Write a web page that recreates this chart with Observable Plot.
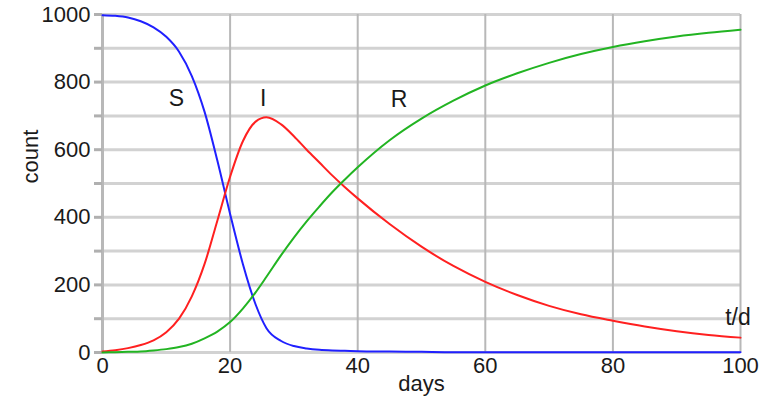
<!DOCTYPE html>
<html>
<head>
<meta charset="utf-8">
<script src="https://cdn.jsdelivr.net/npm/d3@7"></script>
<script src="https://cdn.jsdelivr.net/npm/@observablehq/plot@0.6"></script>
<style>
  html, body { margin: 0; padding: 0; background: #fff; }
  #chart { width: 760px; height: 402px; }
  svg { overflow: visible; }
</style>
</head>
<body>
<div id="chart"></div>
<script>
const days        = [0, 2, 4, 6, 8, 10, 12, 14, 16, 18, 20, 22, 24, 25.7, 28, 30, 32, 34, 36, 38, 40, 45, 50, 55, 60, 65, 70, 75, 80, 85, 90, 95, 100];
const susceptible = [998, 996, 991, 980, 962, 934, 890, 818, 712, 568, 410, 262, 142, 72, 34, 19, 12, 8, 6, 5, 4, 3, 2, 1, 1, 1, 1, 1, 1, 1, 1, 1, 1];
const infected    = [3, 7, 13, 22, 36, 60, 100, 166, 262, 390, 520, 625, 683, 696, 675, 640, 600, 562, 524, 489, 456, 380, 313, 256, 209, 170, 138, 113, 94, 77, 63, 52, 44];
const recovered   = [0, 1, 2, 3, 6, 10, 16, 26, 42, 62, 90, 130, 178, 224, 288, 340, 388, 432, 474, 512, 548, 628, 692, 745, 790, 826, 857, 883, 904, 921, 935, 946, 955];

const seriesNames  = ["S", "I", "R"];
const seriesColors = ["#2020ff", "#ff2020", "#22b422"];

const xTicks = [0, 20, 40, 60, 80, 100];
const yGrid  = [0, 100, 200, 300, 400, 500, 600, 700, 800, 900, 1000];

// curve labels
const labelText = ["S", "I", "R", "t/d"];
const labelDay  = [11.6, 25.2, 46.5, 99.6];
const labelVal  = [752, 752, 748, 102];

const rows = [];
days.forEach((d, i) => {
  rows.push({day: d, value: susceptible[i], series: "S"});
  rows.push({day: d, value: infected[i], series: "I"});
  rows.push({day: d, value: recovered[i], series: "R"});
});
const labels = labelText.map((t, i) => ({t, day: labelDay[i], value: labelVal[i]}));

const font = "'Liberation Sans', Arial, sans-serif";

const chart = Plot.plot({
  width: 760,
  height: 402,
  marginLeft: 102,
  marginRight: 20,
  marginTop: 14,
  marginBottom: 50,
  style: {fontFamily: font, fontSize: "22px", color: "#1a1a1a", background: "#fff"},
  x: {domain: [0, 100]},
  y: {domain: [0, 1000]},
  color: {domain: seriesNames, range: seriesColors},
  marks: [
    Plot.ruleY(yGrid, {stroke: "#d2d2d2", strokeWidth: 3}),
    Plot.ruleX(xTicks, {stroke: "#b8b8b8", strokeWidth: 2}),
    Plot.ruleX([0], {stroke: "#b8b8b8", strokeWidth: 3}),
    Plot.axisY({ticks: yGrid, tickSize: 8, tickPadding: 4, stroke: "#b0b0b0", strokeWidth: 3, strokeOpacity: 1,
                fill: "#1a1a1a", fontSize: 22,
                tickFormat: d => (d % 200 === 0 ? String(d) : ""), label: null}),
    Plot.axisX({ticks: xTicks, tickSize: 0, tickPadding: 5, fill: "#1a1a1a", fontSize: 22,
                tickFormat: d => String(d), label: null}),
    Plot.line(rows, {x: "day", y: "value", z: "series", stroke: "series", strokeWidth: 2, curve: "monotone-x"}),
    Plot.text(labels, {x: "day", y: "value", text: "t", fontSize: 23, fill: "#1a1a1a"}),
    Plot.text(["count"], {frameAnchor: "left", dx: -72, rotate: -90, fontSize: 22, fill: "#1a1a1a"}),
    Plot.text(["days"], {frameAnchor: "bottom", dy: 38, fontSize: 22, fill: "#1a1a1a"})
  ]
});
document.getElementById("chart").appendChild(chart);
</script>
</body>
</html>
